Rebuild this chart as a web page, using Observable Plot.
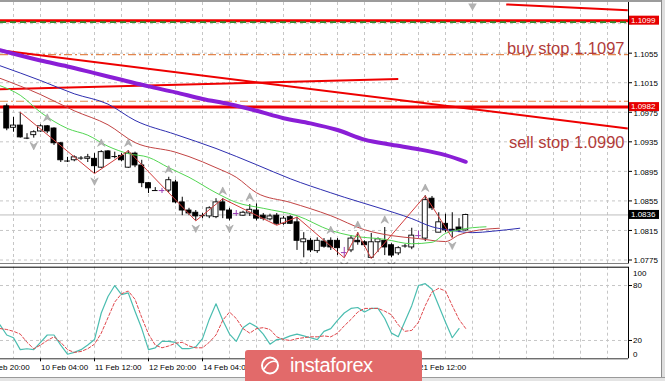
<!DOCTYPE html>
<html><head><meta charset="utf-8">
<script src="https://cdn.jsdelivr.net/npm/d3@7"></script>
<script src="https://cdn.jsdelivr.net/npm/@observablehq/plot@0.6"></script>
<style>
html,body{margin:0;padding:0;background:#fff;}
#wrap{position:relative;width:665px;height:381px;overflow:hidden;background:#fff;font-family:"Liberation Sans",Arial,sans-serif;}
#main{position:absolute;left:0;top:0;}
#stoch{position:absolute;left:0;top:264px;}
#logo{position:absolute;left:245px;top:350px;width:177px;height:31px;background:#e26a6a;border-radius:3px 3px 0 0;}
.edge{position:absolute;}
</style></head>
<body>
<div id="wrap">
  <div id="main"></div>
  <div id="stoch"></div>
  <div class="edge" style="left:0;top:0;width:665px;height:2px;background:#9c9c9c"></div>
  <div class="edge" style="left:661px;top:0;width:1px;height:381px;background:#8a8a8a"></div>
  <div class="edge" style="left:662px;top:0;width:3px;height:381px;background:#dedede"></div>
  <div class="edge" style="left:0;top:377px;width:665px;height:1px;background:#9a9a9a"></div>
  <div class="edge" style="left:0;top:378px;width:665px;height:3px;background:#e4e4e4"></div>
  <div id="logo"></div>
</div>
<script>
// ---------- DATA ----------
const candleBar   = [-5,-4,-3,-2,-1,0,1,2,3,4,5,6,7,8,9,10,11,12,13,14,15,16,17,18,19,20,21,22,23,24,25,26,27,28,29,30,31,32,33,34,35,36,37,38,39,40,41,42,43,44,45,46,47,48,49,50,51,52,53,54,55,56,57,58,59,60,61,62,63];
const candleOpen  = [1.0983,1.0954,1.0957,1.0941,1.0944,1.0949,1.0956,1.0953,1.0933,1.0910,1.0910,1.0912,1.0912,1.0912,1.0900,1.0922,1.0916,1.0916,1.0900,1.0919,1.0903,1.0879,1.0870,1.0869,1.0869,1.0880,1.0853,1.0842,1.0839,1.0834,1.0834,1.0833,1.0853,1.0842,1.0838,1.0835,1.0838,1.0842,1.0835,1.0830,1.0835,1.0824,1.0833,1.0826,1.0799,1.0801,1.0787,1.0800,1.0801,1.0801,1.0785,1.0788,1.0801,1.0799,1.0778,1.0799,1.0801,1.0795,1.0784,1.0793,1.0792,1.0808,1.0804,1.0858,1.0812,1.0824,1.0816,1.0819,1.0815];
const candleHigh  = [1.0986,1.0968,1.0975,1.0946,1.0950,1.0958,1.0957,1.0954,1.0934,1.0914,1.0916,1.0915,1.0918,1.0919,1.0923,1.0923,1.0921,1.0919,1.0923,1.0921,1.0910,1.0880,1.0873,1.0872,1.0887,1.0883,1.0860,1.0845,1.0842,1.0838,1.0847,1.0858,1.0858,1.0845,1.0842,1.0841,1.0850,1.0851,1.0838,1.0837,1.0838,1.0834,1.0835,1.0833,1.0812,1.0804,1.0805,1.0804,1.0805,1.0804,1.0792,1.0808,1.0812,1.0801,1.0811,1.0805,1.0819,1.0797,1.0793,1.0796,1.0818,1.0814,1.0862,1.0861,1.0839,1.0837,1.0839,1.0831,1.0837];
const candleLow   = [1.0950,1.0948,1.0940,1.0938,1.0940,1.0948,1.0946,1.0930,1.0907,1.0907,1.0908,1.0910,1.0907,1.0892,1.0899,1.0911,1.0912,1.0908,1.0899,1.0900,1.0873,1.0865,1.0868,1.0865,1.0866,1.0851,1.0835,1.0835,1.0828,1.0831,1.0831,1.0831,1.0831,1.0828,1.0834,1.0834,1.0834,1.0828,1.0828,1.0828,1.0822,1.0822,1.0823,1.0788,1.0778,1.0785,1.0784,1.0791,1.0788,1.0781,1.0778,1.0785,1.0795,1.0792,1.0777,1.0785,1.0781,1.0778,1.0781,1.0791,1.0789,1.0804,1.0800,1.0842,1.0812,1.0812,1.0805,1.0812,1.0814];
const candleClose = [1.0953,1.0957,1.0941,1.0940,1.0948,1.0956,1.0949,1.0933,1.0910,1.0909,1.0914,1.0913,1.0914,1.0902,1.0921,1.0912,1.0915,1.0910,1.0919,1.0903,1.0879,1.0872,1.0869,1.0869,1.0883,1.0853,1.0842,1.0838,1.0834,1.0835,1.0845,1.0853,1.0842,1.0831,1.0838,1.0839,1.0843,1.0831,1.0831,1.0834,1.0824,1.0831,1.0824,1.0801,1.0803,1.0788,1.0801,1.0793,1.0792,1.0791,1.0785,1.0804,1.0799,1.0795,1.0799,1.0803,1.0792,1.0781,1.0791,1.0794,1.0808,1.0808,1.0856,1.0845,1.0826,1.0815,1.0814,1.0815,1.0836];

const maBar    = [-6,0,4,8,12,16,20,24,28,32,36,40,44,48,52,56,60,63];
const maPrice  = [1.1059,1.1045,1.1037,1.1028,1.1019,1.1010,1.1002,1.0993,1.0986,1.0977,1.0967,1.0960,1.0951,1.0938,1.0931,1.0925,1.0917,1.0908];
const jawBar   = [-6,0,5,10,14,20,26,32,37,43,45,50,55,58,61,64,67,71];
const jawPrice = [1.1038,1.1018,1.1000,1.0986,1.0964,1.0945,1.0926,1.0904,1.0885,1.0866,1.0860,1.0846,1.0831,1.0820,1.0815,1.0812,1.0814,1.0818];
const teethBar   = [-6,0,5,10,14,20,22,26,29,32,37,43,48,52,56,60,62,64,68];
const teethPrice = [1.1021,1.0999,1.0977,1.0958,1.0934,1.0921,1.0915,1.0900,1.0887,1.0866,1.0853,1.0835,1.0816,1.0808,1.0804,1.0800,1.0809,1.0814,1.0818];
const lipsBar   = [-6,-3,0,4,7,10,13,16,19,22,26,29,33,38,43,46,51,55,58,60,62,66];
const lipsPrice = [1.1011,1.0998,1.0975,1.0953,1.0944,1.0929,1.0919,1.0914,1.0900,1.0887,1.0866,1.0853,1.0845,1.0835,1.0815,1.0808,1.0803,1.0797,1.0799,1.0811,1.0816,1.0820];
const zigzagBar   = [-3,8,13,23,27,35,38,45,47,49,57,61];
const zigzagPrice = [1.0975,1.0892,1.0923,1.0828,1.0858,1.0822,1.0833,1.0778,1.0812,1.0777,1.0862,1.0805];
const fractalUpBar   = [1,9,13,19,27,31,43,47,51,57];
const fractalDownBar = [-1,8,23,28,39,45,49,52,61];
const markerBar = [64], markerPrice = [1.1119];

const trendFromBar = [-6,-6,69], trendFromPrice = [1.1059,1.1006,1.1121];
const trendToBar   = [87,53,87],  trendToPrice   = [1.0953,1.1020,1.1113];
const redLevels = [1.1099, 1.0982];
const buyStopLevel = [1.1097];
const orangeLevels = [1.1053, 1.0990];
const lastPrice = 1.0836;
const noteText = ["buy stop 1.1097", "sell stop 1.0990"];
const notePrice = [1.1061, 1.0934];
const boxPrice = [1.1099, 1.0982, 1.0836];
const boxFill  = ["#e60000", "#e60000", "#000000"];
const priceGrid  = [1.1095,1.1055,1.1015,1.0975,1.0935,1.0895,1.0855,1.0815,1.0775];
const priceLabel = [1.1055,1.1015,1.0975,1.0935,1.0895,1.0855,1.0815,1.0775];

const stochBar = d3.range(-6, 64);
const stochMain   = [37,26,23,10,11,10,18,26,26,15,5,7,10,15,21,50,68,80,70,72,52,33,10,12,19,19,18,11,11,13,22,43,60,42,27,19,34,39,35,27,16,21,22,25,27,25,23,21,30,33,42,50,55,56,51,55,55,44,28,24,41,58,80,82,76,58,40,23,33];
const stochSignal = [33,32,30,27,18,11,15,20,24,18,10,7,8,11,16,28,45,62,71,74,65,45,27,15,12,14,17,18,14,12,12,18,26,42,51,44,33,28,33,34,32,24,21,20,22,23,24,24,25,24,28,36,43,51,55,55,55,52,48,37,30,31,40,58,73,77,74,58,43,33];
const stochTicks = [80, 20];
const dateTickBar = [-8,0,8,16,24,32,40,48,56];
const dateBar   = [-8,0,8,16,24,56];
const dateLabel = ["6 Feb 20:00","10 Feb 04:00","11 Feb 12:00","12 Feb 20:00","14 Feb 04:00","21 Feb 12:00"];

// ---------- BUILD ----------
const candles = candleBar.map((i,k)=>({i,o:candleOpen[k],h:candleHigh[k],l:candleLow[k],c:candleClose[k]}));
const byBar = new Map(candles.map(d=>[d.i,d]));
const isDoji = d => Math.abs(d.o-d.c) < 0.00015;
const candleInk = d => d.o === d.c ? "#9b3fb5" : "#000000";
const pts = (bars, vals) => bars.map((i,k)=>({i, p: vals[k]}));
const trends = trendFromBar.map((b,k)=>({x1:b,y1:trendFromPrice[k],x2:trendToBar[k],y2:trendToPrice[k]}));
const notes = noteText.map((t,k)=>({t,p:notePrice[k]}));
const stochPts = stochBar.map((i,k)=>({i,m:stochMain[k],s:stochSignal[k]}));
const dates = dateBar.map((b,k)=>({b,t:dateLabel[k]}));
const gridBar = d3.range(-4, 88, 4);

const arrow = {draw(ctx, size){const s=Math.sqrt(size)/1.7; ctx.moveTo(0,-s); ctx.lineTo(s,s); ctx.lineTo(0,s*0.35); ctx.lineTo(-s,s); ctx.closePath();}};

const xDom = [-5.926, 87.111];
const yDom = [1.07696, 1.11236];
const font = "'Liberation Sans', Arial, sans-serif";
const grid = {stroke:"#c6c6c6", strokeDasharray:"3,3", strokeWidth:1};

const main = Plot.plot({
  width:665, height:264, marginLeft:0, marginRight:37, marginTop:2, marginBottom:0.5,
  x:{domain:xDom, axis:null}, y:{domain:yDom, axis:null},
  style:{fontFamily:font, fontSize:"8px", background:"transparent"},
  marks:[
    Plot.ruleX(gridBar, grid),
    Plot.ruleY(priceGrid, grid),
    Plot.ruleY([lastPrice], {stroke:"#bdbdbd"}),
    Plot.ruleY(orangeLevels, {stroke:"#e3874e", strokeDasharray:"8,3,2,3", strokeWidth:1.1}),
    Plot.ruleY(redLevels, {stroke:"#ee0000", strokeWidth:3}),
    Plot.ruleY(buyStopLevel, {stroke:"#2f8f2f", strokeWidth:1.6, strokeDasharray:"6,4"}),
    Plot.link(trends, {x1:"x1",y1:"y1",x2:"x2",y2:"y2", stroke:"#ee0000", strokeWidth:2, clip:true}),
    Plot.line(pts(maBar,maPrice), {x:"i",y:"p", stroke:"#8a1ed6", strokeWidth:4, curve:"monotone-x"}),
    Plot.ruleX(candles, {x:"i", y1:"l", y2:"h", stroke:candleInk, strokeWidth:1}),
    Plot.rect(candles.filter(d=>!isDoji(d)), {x1:d=>d.i-0.37, x2:d=>d.i+0.37, y1:"o", y2:"c", fill:d=>d.c>d.o?"#ffffff":"#000000", stroke:"#000", strokeWidth:0.9}),
    Plot.ruleY(candles.filter(isDoji), {x1:d=>d.i-0.42, x2:d=>d.i+0.42, y:"c", stroke:candleInk, strokeWidth:1}),
    Plot.line(pts(jawBar,jawPrice), {x:"i",y:"p", stroke:"#2e2eb0", strokeWidth:1, curve:"monotone-x"}),
    Plot.line(pts(teethBar,teethPrice), {x:"i",y:"p", stroke:"#c24444", strokeWidth:1, curve:"monotone-x"}),
    Plot.line(pts(lipsBar,lipsPrice), {x:"i",y:"p", stroke:"#52d652", strokeWidth:1, curve:"monotone-x"}),
    Plot.line(pts(zigzagBar,zigzagPrice), {x:"i",y:"p", stroke:"#d23c3c", strokeWidth:1}),
    Plot.dot(fractalUpBar, {x:d=>d, y:d=>byBar.get(d).h, dy:-8, symbol:arrow, r:3.6, fill:"#b2b2b2", stroke:"#9a9a9a", strokeWidth:0.5}),
    Plot.dot(fractalDownBar, {x:d=>d, y:d=>byBar.get(d).l, dy:8, symbol:arrow, rotate:180, r:3.6, fill:"#b2b2b2", stroke:"#9a9a9a", strokeWidth:0.5}),
    Plot.dot(markerBar.map((b,k)=>({b,p:markerPrice[k]})), {x:"b", y:"p", symbol:"triangle", rotate:180, r:3.2, fill:"#b2b2b2"}),
    Plot.text(notes, {y:"p", text:"t", frameAnchor:"right", textAnchor:"end", dx:-4, lineAnchor:"middle", fontSize:16.5, fill:"#b23c3a"}),
    Plot.ruleX([xDom[1]], {stroke:"#000"}),
    Plot.ruleY([yDom[0]], {stroke:"#000"}),
    Plot.axisY(priceGrid, {anchor:"right", tickSize:3, tickFormat:()=>""}),
    Plot.axisY(priceLabel, {anchor:"right", tickSize:0, tickPadding:5, tickFormat:d3.format(".4f"), fontSize:8, dy:0.8})
  ]
});
document.getElementById("main").appendChild(main);

const ys = main.scale("y");
const msvg = d3.select(main);
boxPrice.forEach((p,k)=>{
  const y = ys.apply(p);
  msvg.append("rect").attr("x",629).attr("y",y-4.5).attr("width",30).attr("height",9).attr("fill",boxFill[k]);
  msvg.append("text").attr("x",631).attr("y",y).attr("dy","0.35em").attr("fill","#fff")
    .attr("text-anchor","start").attr("font-size",8).attr("font-family",font).text(d3.format(".4f")(p));
});

const stoch = Plot.plot({
  width:665, height:117, marginLeft:0, marginRight:37, marginTop:2.7, marginBottom:22.7,
  x:{domain:xDom, axis:null}, y:{domain:[0,100], axis:null},
  style:{fontFamily:font, fontSize:"8px", background:"transparent"},
  marks:[
    Plot.ruleX(gridBar, grid),
    Plot.ruleY(stochTicks, grid),
    Plot.line(stochPts, {x:"i", y:"m", stroke:"#4bbdb0", strokeWidth:1.2}),
    Plot.line(stochPts, {x:"i", y:"s", stroke:"#e0474c", strokeWidth:1, strokeDasharray:"3,2"}),
    Plot.ruleY([100], {stroke:"#000"}),
    Plot.ruleY([0], {stroke:"#333"}),
    Plot.ruleX([xDom[1]], {stroke:"#000"}),
    Plot.axisY(stochTicks, {anchor:"right", tickSize:3, tickPadding:1.5, fontSize:8}),
    Plot.text([100], {y:d=>d, text:d=>String(d), frameAnchor:"right", textAnchor:"start", dx:4.5, dy:6, fontSize:8}),
    Plot.text([0], {y:d=>d, text:d=>String(d), frameAnchor:"right", textAnchor:"start", dx:4.5, dy:-4.5, fontSize:8}),
    Plot.axisX(dateTickBar, {anchor:"bottom", tickSize:3, tickFormat:()=>""}),
    Plot.text(dates, {x:"b", text:"t", frameAnchor:"bottom", textAnchor:"start", lineAnchor:"top", dy:6, dx:0.5, fontSize:8})
  ]
});
document.getElementById("stoch").appendChild(stoch);

// watermark
const lg = d3.select("#logo").append("svg").attr("width",177).attr("height",31);
lg.append("circle").attr("cx",25).attr("cy",15.5).attr("r",8).attr("fill","none").attr("stroke","#fff").attr("stroke-width",2);
lg.append("path").attr("d","M19,19 Q25,9 32,12").attr("fill","none").attr("stroke","#fff").attr("stroke-width",1.6);
lg.append("text").attr("x",45).attr("y",22).attr("fill","#fff").attr("font-size",20)
  .attr("letter-spacing","-0.4").attr("font-family",font).text("instaforex");
</script>
</body></html>
